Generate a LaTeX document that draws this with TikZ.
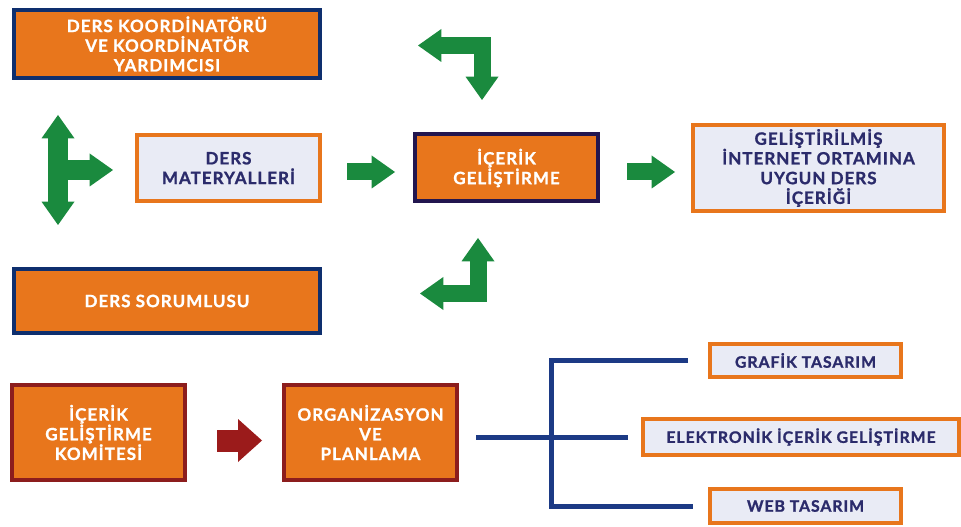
\documentclass[tikz,border=0pt]{standalone}
\usepackage{fontspec}
\setmainfont{Lato}[LetterSpace=6, BoldFeatures={FakeBold=1.2}]
\usetikzlibrary{arrows.meta,positioning}
\definecolor{deporange}{RGB}{232,118,28}
\definecolor{boxnavy}{RGB}{14,47,110}
\definecolor{boxindigo}{RGB}{34,22,79}
\definecolor{boxred}{RGB}{140,29,29}
\definecolor{arrowred}{RGB}{155,27,27}
\definecolor{softlilac}{RGB}{233,235,245}
\definecolor{inknavy}{RGB}{43,43,107}
\definecolor{arrowgreen}{RGB}{26,138,62}
\definecolor{treeblue}{RGB}{28,58,133}

\tikzset{
  GTip/.tip={Triangle[length=7mm, width=9.9mm, line width=0pt]},
  RTip/.tip={Triangle[length=7.2mm, width=12.9mm, line width=0pt]},
}

\begin{document}
\begin{tikzpicture}[x=0.3mm, y=-0.3mm,
  font=\bfseries\fontsize{14.5}{16.8}\selectfont,
  orangebox/.style={draw=boxnavy, line width=1.2mm, fill=deporange, text=white, align=center},
  lightbox/.style={draw=deporange, line width=1.2mm, fill=softlilac, text=inknavy, align=center},
  smallbox/.style={lightbox, font=\bfseries\fontsize{13.5}{16}\selectfont},
  garrow/.style={draw=arrowgreen, line width=5.1mm, line join=miter, {GTip}-{GTip}},
  treeline/.style={draw=treeblue, line width=1.5mm, line join=miter}]
  \useasboundingbox (0,0) rectangle (961,527);

  % staff and materials
  \node[orangebox, minimum width=91.8mm, minimum height=20.4mm] (koord) at (167,44) {DERS KOORDİNATÖRÜ\\VE KOORDİNATÖR\\YARDIMCISI};
  \node[lightbox, minimum width=54.9mm, minimum height=19.8mm] (mat) at (228.5,168) {DERS\\MATERYALLERİ};
  \node[orangebox, draw=boxindigo, minimum width=54.9mm, minimum height=20.1mm, right=27.3mm of mat] (icerik) {İÇERİK\\GELİŞTİRME};
  \node[lightbox, minimum width=75.3mm, minimum height=25.8mm, inner sep=0pt, right=27.3mm of icerik] (gelis) {GELİŞTİRİLMİŞ\\İNTERNET ORTAMINA\\UYGUN DERS\\İÇERİĞİ};
  \node[orangebox, minimum width=91.8mm, minimum height=19.2mm] (sorum) at (167,301) {DERS SORUMLUSU};

  % committee
  \node[orangebox, draw=boxred, minimum width=51.9mm, minimum height=28.5mm] (komite) at (98.5,432.5) {İÇERİK\\GELİŞTİRME\\KOMİTESİ};
  \node[orangebox, draw=boxred, minimum width=51.9mm, minimum height=28.5mm, right=28.5mm of komite] (org) {ORGANİZASYON\\VE\\PLANLAMA};
  \node[smallbox, minimum width=57.3mm, minimum height=9.9mm] (grafik) at (805.5,360.5) {GRAFİK TASARIM};
  \node[smallbox, minimum width=94.8mm, minimum height=10.8mm, inner xsep=1mm] (elek) at (801,437) {ELEKTRONİK İÇERİK GELİŞTİRME};
  \node[smallbox, minimum width=57.3mm, minimum height=10.2mm] (web) at (805.5,506) {WEB TASARIM};

  % green arrows
  \coordinate (tl1) at (418,45.5);
  \coordinate (tl2) at (482,100);
  \coordinate (bl1) at (478,238);
  \coordinate (bl2) at (420,293.5);
  \coordinate (vt) at (58,115);
  \coordinate (vb) at (58,225);
  \coordinate (vr) at (113,170);
  \draw[garrow] (tl1) -| (tl2);
  \draw[garrow] (bl1) |- (bl2);
  \draw[garrow, line width=6mm] (vt) -- (vb);
  \draw[garrow, line width=6mm, -{GTip}] (vr -| vt) -- (vr);
  \draw[garrow, -{GTip}, shorten <=7.5mm, shorten >=5.4mm] ([yshift=-1.2mm]mat.east) -- ([yshift=-1.2mm]icerik.west);
  \draw[garrow, -{GTip}, shorten <=8.1mm, shorten >=4.8mm] ([yshift=-1.2mm]icerik.east) -- ([yshift=-1.2mm]gelis.west);
  \draw[garrow, draw=arrowred, line width=6.6mm, -{RTip}, shorten <=9mm, shorten >=6mm] ([yshift=-2.4mm]komite.east) -- ([yshift=-2.4mm]org.west);

  % tree
  \coordinate (tj) at (551,437);
  \draw[treeline, shorten <=5.1mm, shorten >=3.9mm] (org.east |- tj) -- (elek.west);
  \draw[treeline, shorten <=6mm, shorten >=4.5mm] (grafik.west) -| (tj) |- (web.west);
\end{tikzpicture}
\end{document}
